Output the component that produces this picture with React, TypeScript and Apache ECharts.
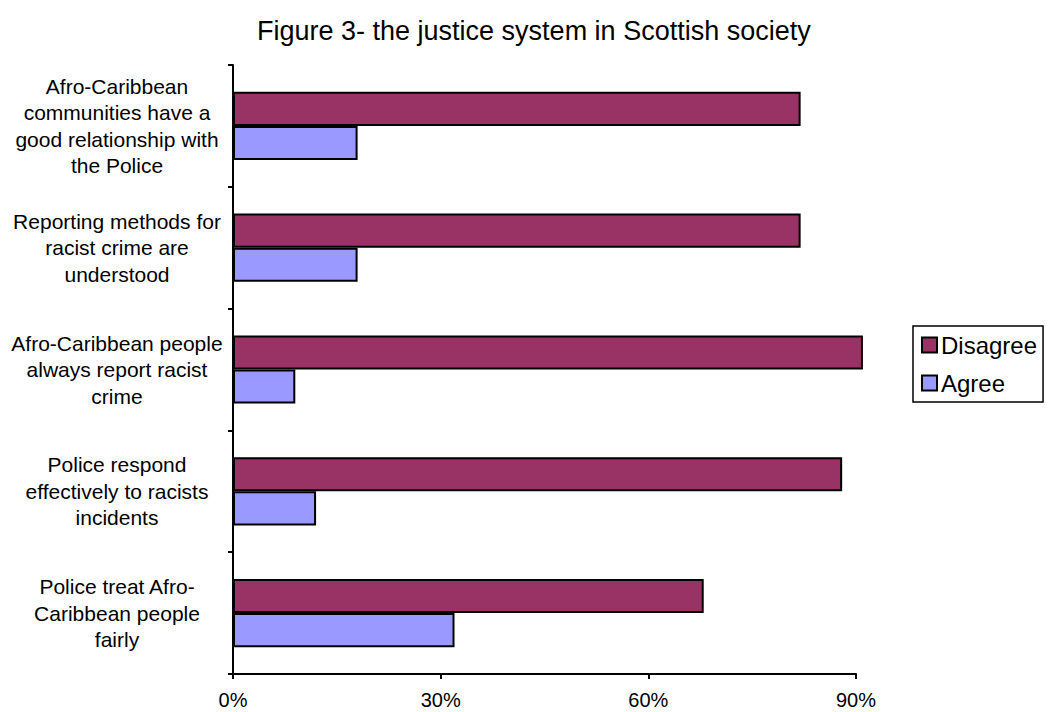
import React, { useEffect, useRef } from "react";
import * as echarts from "echarts";

const titleText = "Figure 3- the justice system in Scottish society";
const categories = [
  "Afro-Caribbean\ncommunities have a\ngood relationship with\nthe Police",
  "Reporting methods for\nracist crime are\nunderstood",
  "Afro-Caribbean people\nalways report racist\ncrime",
  "Police respond\neffectively to racists\nincidents",
  "Police treat Afro-\nCaribbean people\nfairly",
];
const disagreeValues = [82, 82, 91, 88, 68];
const agreeValues = [18, 18, 9, 12, 32];
const xTicks = [0, 30, 60, 90];

const FONT = 'Arial, "Liberation Sans", sans-serif';

export default function App() {
  const ref = useRef<HTMLDivElement>(null);
  useEffect(() => {
    document.body.style.margin = "0";
    if (!ref.current) return;
    const chart = echarts.init(ref.current, undefined, { renderer: "svg" });
    chart.setOption({
      animation: false,
      backgroundColor: "#ffffff",
      textStyle: { fontFamily: FONT, color: "#000" },
      title: {
        text: titleText,
        left: 252,
        top: 12,
        textStyle: { fontFamily: FONT, fontSize: 27, fontWeight: "normal", color: "#000" },
      },
      legend: {
        orient: "vertical",
        left: 913,
        top: 326,
        padding: [7, 6, 7, 8],
        itemGap: 14,
        itemWidth: 15,
        itemHeight: 15,
        borderColor: "#000",
        borderWidth: 1.5,
        icon: "rect",
        textStyle: { fontFamily: FONT, fontSize: 24, color: "#000", lineHeight: 24, padding: [0, 0, 0, -1] },
        data: ["Disagree", "Agree"],
      },
      grid: {
        left: 233,
        right: 194,
        top: 65,
        bottom: 38,
        containLabel: false,
        outerBoundsMode: "none",
      },
      xAxis: {
        type: "value",
        min: xTicks[0],
        max: xTicks[xTicks.length - 1],
        interval: 30,
        axisLine: { show: true, lineStyle: { color: "#000", width: 2 } },
        axisTick: { show: true, length: 5, lineStyle: { color: "#000", width: 2 } },
        splitLine: { show: false },
        axisLabel: {
          fontFamily: FONT,
          fontSize: 20,
          color: "#000",
          margin: 16,
          formatter: (v: number) => `${v}%`,
        },
      },
      yAxis: {
        type: "category",
        inverse: true,
        data: categories,
        axisLine: { show: true, lineStyle: { color: "#000", width: 2 } },
        axisTick: { show: true, length: 5, lineStyle: { color: "#000", width: 2 } },
        axisLabel: {
          fontFamily: FONT,
          fontSize: 21,
          color: "#000",
          lineHeight: 26.5,
          align: "center",
          margin: 116,
        },
      },
      series: [
        {
          name: "Disagree",
          type: "bar",
          data: disagreeValues,
          clip: false,
          barGap: "0%",
          barCategoryGap: "44%",
          itemStyle: { color: "#993366", borderColor: "#000", borderWidth: 2 },
        },
        {
          name: "Agree",
          type: "bar",
          data: agreeValues,
          clip: false,
          barGap: "0%",
          barCategoryGap: "44%",
          itemStyle: { color: "#9999FF", borderColor: "#000", borderWidth: 2 },
        },
      ],
    });
    return () => chart.dispose();
  }, []);
  return <div ref={ref} style={{ width: 1050, height: 712 }} />;
}
